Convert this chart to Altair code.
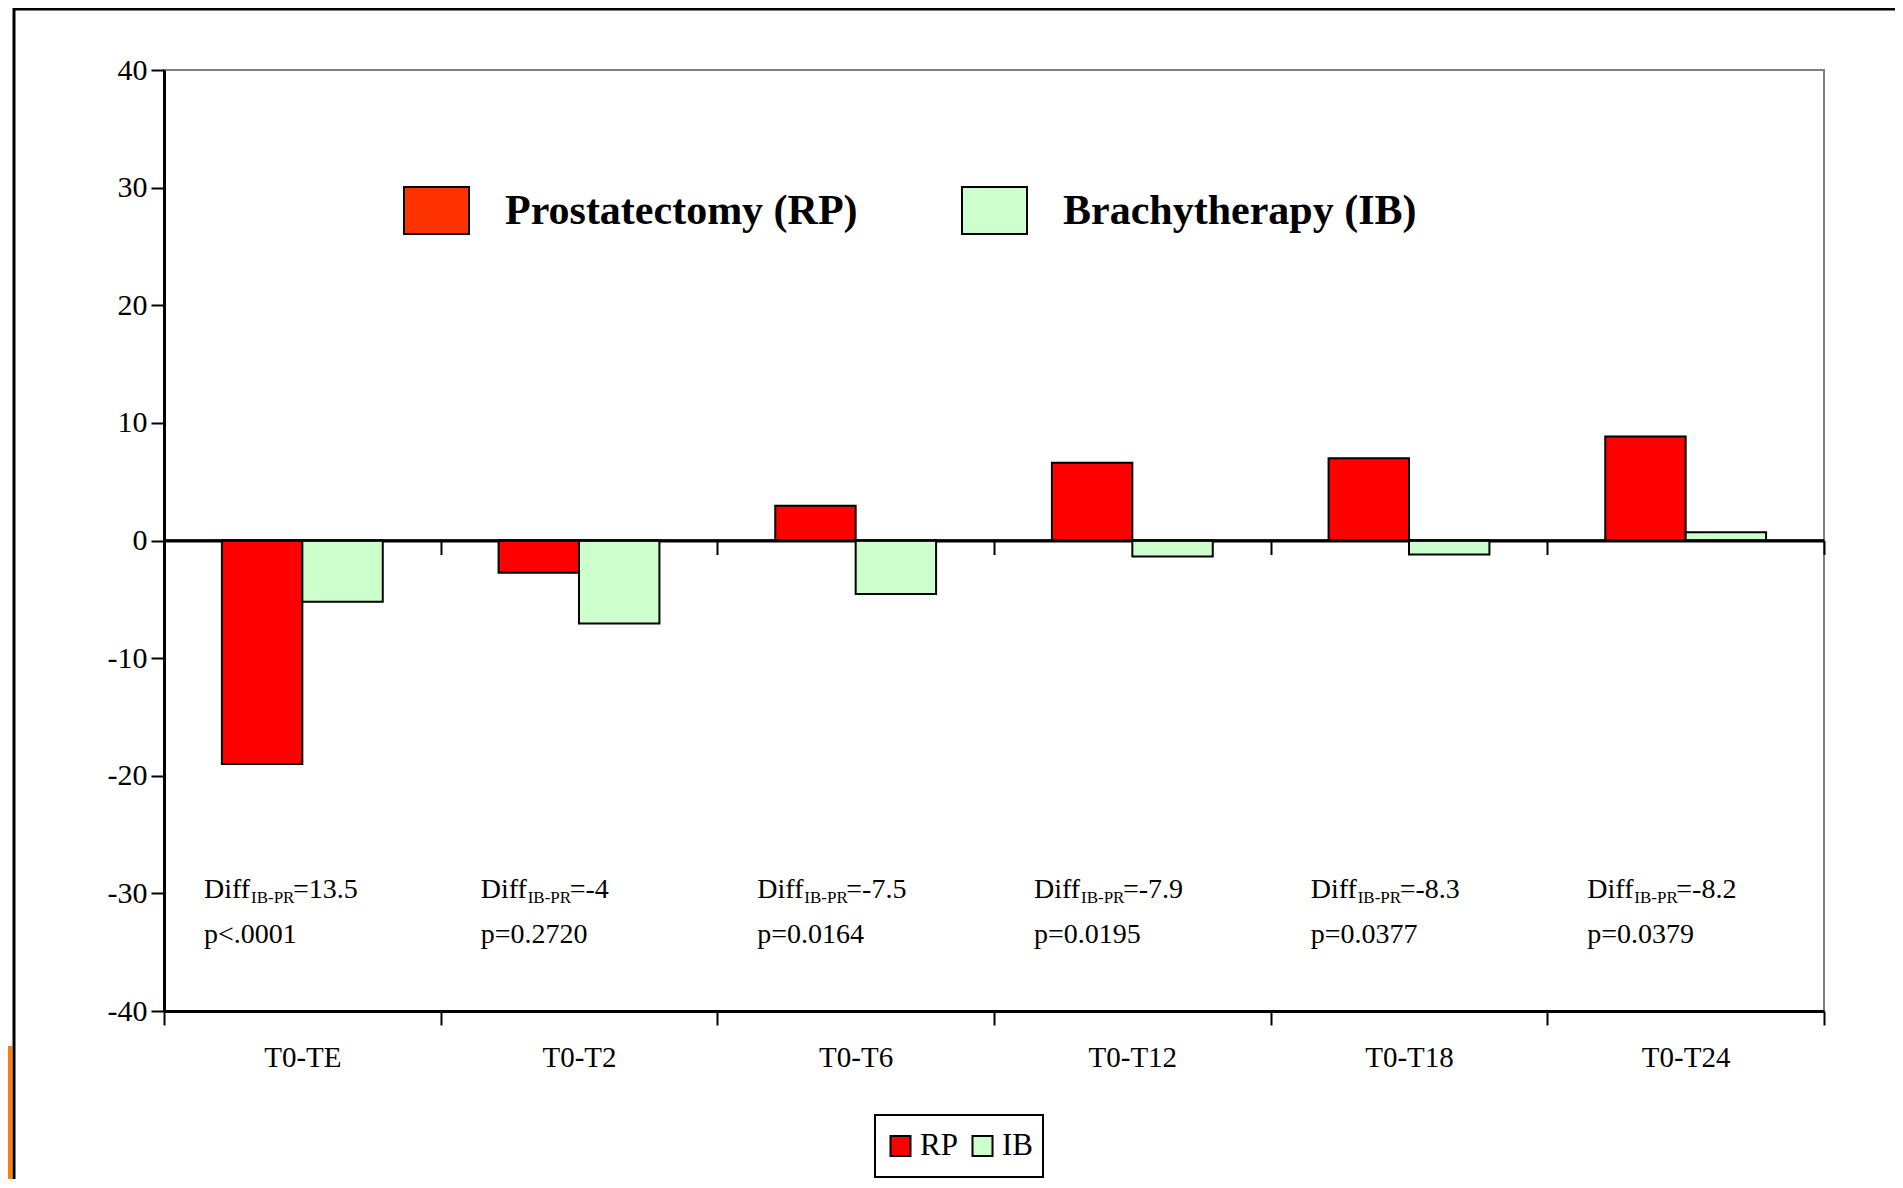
import altair as alt
import pandas as pd

# ---- data ----
categories = ["T0-TE", "T0-T2", "T0-T6", "T0-T12", "T0-T18", "T0-T24"]
rp_values = [-19.0, -2.75, 2.95, 6.6, 7.0, 8.85]
ib_values = [-5.2, -7.05, -4.55, -1.35, -1.2, 0.7]
series_short = ["RP", "IB"]
series_long = ["Prostatectomy (RP)", "Brachytherapy (IB)"]
diff_values = ["13.5", "-4", "-7.5", "-7.9", "-8.3", "-8.2"]
p_values = ["p<.0001", "p=0.2720", "p=0.0164", "p=0.0195", "p=0.0377", "p=0.0379"]
y_ticks = [-40, -30, -20, -10, 0, 10, 20, 30, 40]

rows = []
for c, r, i in zip(categories, rp_values, ib_values):
    rows.append({"cat": c, "series": series_short[0], "long": series_long[0], "value": r})
    rows.append({"cat": c, "series": series_short[1], "long": series_long[1], "value": i})
bars_df = pd.DataFrame(rows)

ann_df = pd.DataFrame({
    "cat": categories,
    "lab": ["Diff"] * len(categories),
    "sub": ["IB-PR"] * len(categories),
    "diff": ["=" + d for d in diff_values],
    "p": p_values,
})
deco_df = pd.DataFrame({"k": [0]})

FONT = "Liberation Serif"
W, H = 1660, 941

x_scale = alt.Scale(domain=categories, paddingInner=0, paddingOuter=0)
y_scale = alt.Scale(domain=[-40, 40], nice=False, zero=False)


def y_axis():
    return alt.Axis(title=None, values=y_ticks, grid=False, domainColor="black",
                    domainWidth=3, tickColor="black", tickWidth=2, tickSize=13,
                    labelFont=FONT, labelFontSize=30, labelColor="black",
                    labelPadding=4, labelExpr="'' + datum.value")


# ---- decorations (slide frame) ----
top_line = alt.Chart(deco_df).mark_rule(color="black", strokeWidth=3).encode(
    x=alt.value(-150), x2=alt.value(1731), y=alt.value(-61))
left_line = alt.Chart(deco_df).mark_rule(color="black", strokeWidth=3).encode(
    x=alt.value(-150), y=alt.value(-62), y2=alt.value(1113))
orange = alt.Chart(deco_df).mark_rect(color="#FF8000").encode(
    x=alt.value(-156), x2=alt.value(-152), y=alt.value(976), y2=alt.value(1113))

# ---- bars with main axes and bottom legend ----
bars = alt.Chart(bars_df).mark_bar(stroke="black", strokeWidth=2).encode(
    x=alt.X("cat:N", scale=x_scale, sort=categories,
            axis=alt.Axis(title=None, orient="bottom", tickBand="extent",
                          domainColor="black", domainWidth=3, tickColor="black",
                          tickWidth=2, tickSize=14, labelFont=FONT, labelFontSize=29,
                          labelColor="black", labelPadding=18, labelAngle=0)),
    xOffset=alt.XOffset("series:N", sort=series_short,
                        scale=alt.Scale(domain=series_short, paddingOuter=0.72, paddingInner=0)),
    y=alt.Y("value:Q", scale=y_scale, axis=y_axis()),
    fill=alt.Fill("series:N", sort=series_short,
                  scale=alt.Scale(domain=series_short, range=["#FF0000", "#CCFFCC"]),
                  legend=alt.Legend(title=None, orient="none", legendX=711, legendY=1045,
                                    direction="horizontal", strokeColor="black", padding=10,
                                    fillColor="white", symbolType="square", symbolSize=400,
                                    symbolStrokeColor="black", symbolStrokeWidth=2,
                                    labelFont=FONT, labelFontSize=31, labelColor="black",
                                    labelOffset=4, columnPadding=9, labelLimit=500,
                                    clipHeight=42)),
)

# ---- zero line axis + top legend ----
legend_layer = alt.Chart(bars_df).mark_bar(stroke="black", strokeWidth=2).encode(
    x=alt.X("cat:N", scale=x_scale, sort=categories,
            axis=alt.Axis(title=None, orient="bottom", offset=-470.5, labels=False,
                          tickBand="extent", domainColor="black", domainWidth=3,
                          tickColor="black", tickWidth=2, tickSize=14)),
    y=alt.YDatum(0, axis=y_axis()),
    fill=alt.Fill("long:N", sort=series_long,
                  scale=alt.Scale(domain=series_long, range=["#FF3300", "#CCFFCC"]),
                  legend=alt.Legend(title=None, orient="none", legendX=239, legendY=107,
                                    direction="horizontal", padding=0,
                                    symbolType="M-1,-0.723H1V0.723H-1Z", symbolSize=4225,
                                    symbolStrokeColor="black", symbolStrokeWidth=2,
                                    labelFont=FONT, labelFontSize=42, labelFontWeight="bold",
                                    labelColor="black", labelOffset=35, columnPadding=100,
                                    labelLimit=600)),
)

# ---- annotations ----
ann_base = alt.Chart(ann_df).encode(
    x=alt.X("cat:N", scale=x_scale, sort=categories, bandPosition=0, axis=None))
txt = dict(align="left", baseline="alphabetic", font=FONT, color="black")
diff_lab = ann_base.mark_text(fontSize=28, dx=40, **txt).encode(y=alt.value(828), text="lab:N")
sub_lab = ann_base.mark_text(fontSize=17, dx=87, **txt).encode(y=alt.value(833), text="sub:N")
eq_lab = ann_base.mark_text(fontSize=28, dx=129, **txt).encode(y=alt.value(828), text="diff:N")
p_lab = ann_base.mark_text(fontSize=28, dx=40, **txt).encode(y=alt.value(873), text="p:N")

chart = alt.layer(
    top_line, left_line, orange, bars, legend_layer, diff_lab, sub_lab, eq_lab, p_lab
).resolve_scale(fill="independent").resolve_axis(x="independent").properties(
    width=W, height=H,
    autosize=alt.AutoSizeParams(type="none"),
    padding={"left": 156, "top": 62, "right": 71, "bottom": 168},
).configure_view(stroke="#808080", strokeWidth=2).configure_legend(strokeWidth=2)

chart.save("out.html", embed_options={"renderer": "svg", "actions": False})
